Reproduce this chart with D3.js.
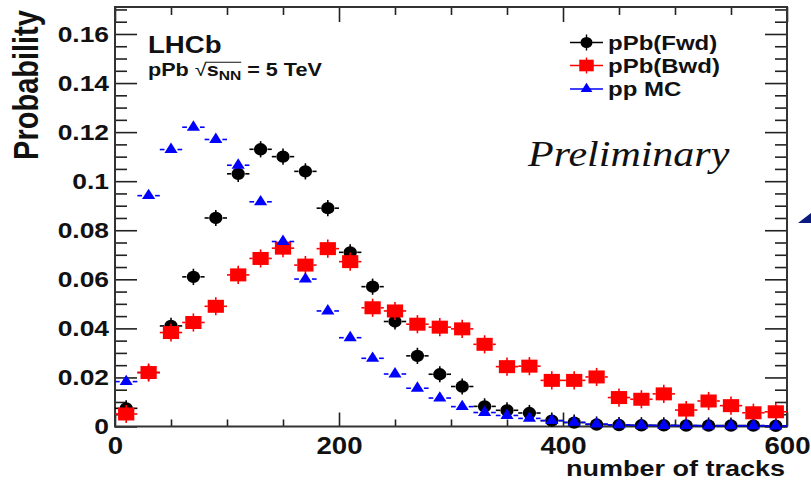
<!DOCTYPE html>
<html>
<head>
<meta charset="utf-8">
<script src="https://cdn.jsdelivr.net/npm/d3@7/dist/d3.min.js"></script>
<style>
  body { margin: 0; background: #fff; }
  text { font-family: "Liberation Sans", Arial, sans-serif; }
</style>
</head>
<body>
<div id="chart"></div>
<script>
// track multiplicity, bin centres (20 tracks wide)
var binCenters = [10, 30, 50, 70, 90, 110, 130, 150, 170, 190,
                  210, 230, 250, 270, 290, 310, 330, 350, 370, 390,
                  410, 430, 450, 470, 490, 510, 530, 550, 570, 590];

var fwdValues = [0.0074, 0.0220, 0.0410, 0.0610, 0.0850, 0.1030, 0.1130, 0.1100, 0.1040, 0.0890,
                 0.0710, 0.0570, 0.0428, 0.0288, 0.0213, 0.0163, 0.0082, 0.0066, 0.0055, 0.0024,
                 0.0016, 0.0008, 0.0006, 0.0005, 0.0005, 0.0004, 0.0004, 0.0004, 0.0004, 0.0003];

var bwdValues = [0.0051, 0.0220, 0.0383, 0.0424, 0.0490, 0.0618, 0.0685, 0.0727, 0.0658, 0.0725,
                 0.0672, 0.0484, 0.0471, 0.0417, 0.0405, 0.0398, 0.0335, 0.0244, 0.0246, 0.0188,
                 0.0188, 0.0202, 0.0118, 0.0111, 0.0133, 0.0067, 0.0104, 0.0085, 0.0056, 0.0060];

var mcValues = [0.0183, 0.0941, 0.1129, 0.1220, 0.1170, 0.1065, 0.0916, 0.0754, 0.0601, 0.0471,
                0.0362, 0.0278, 0.0214, 0.0156, 0.0116, 0.0081, 0.0057, 0.0045, 0.0033, 0.0024,
                0.0017, 0.0010, 0.0007, 0.0005, 0.0004, 0.0004, 0.0003, 0.0003, 0.0003, 0.0002];

var xTicks = [0, 200, 400, 600];
var xMinorTicks = [50, 100, 150, 250, 300, 350, 450, 500, 550];
var yTicks = [0, 0.02, 0.04, 0.06, 0.08, 0.1, 0.12, 0.14, 0.16];
var yMinorTicks = [0.005, 0.01, 0.015, 0.025, 0.03, 0.035, 0.045, 0.05, 0.055, 0.065, 0.07, 0.075,
                   0.085, 0.09, 0.095, 0.105, 0.11, 0.115, 0.125, 0.13, 0.135, 0.145, 0.15, 0.155,
                   0.165, 0.17];
var legendLabels = ["pPb(Fwd)", "pPb(Bwd)", "pp MC"];

var w = 811, h = 482,
    frame = { left: 115, right: 787, top: 7, bottom: 426.5 },
    sx = 1.2; // the fonts are drawn a bit wide

var x = d3.scaleLinear().domain([0, 600]).range([frame.left, frame.right]);
var y = d3.scaleLinear().domain([0, 0.171]).range([frame.bottom, frame.top]);

var svg = d3.select("#chart").append("svg")
    .attr("width", w)
    .attr("height", h);

svg.append("rect").attr("width", w).attr("height", h).attr("fill", "#fff");

// axes, ROOT style: ticks point into the frame on all four sides
function fmtY(d) { return d === 0 ? "0" : String(+d.toFixed(2)); }

function addAxis(axis, tx, ty, size, labels) {
    var g = svg.append("g").attr("transform", "translate(" + tx + "," + ty + ")")
        .call(axis.tickSizeInner(-size).tickSizeOuter(0));
    g.select(".domain").remove();
    g.selectAll(".tick line").attr("stroke", "#222").attr("stroke-width", 1.6);
    if (!labels) g.selectAll(".tick text").remove();
    return g;
}

var yAxis = addAxis(d3.axisLeft(y).tickValues(yTicks).tickFormat(fmtY).tickPadding(5), frame.left, 0, 22, true);
yAxis.selectAll(".tick text")
    .attr("fill", "#111")
    .style("font-size", "22px").style("font-weight", "bold")
    .attr("transform", "scale(" + sx + ",1)");
addAxis(d3.axisLeft(y).tickValues(yMinorTicks).tickFormat(""), frame.left, 0, 12, false);
addAxis(d3.axisRight(y).tickValues(yTicks), frame.right, 0, 22, false);
addAxis(d3.axisRight(y).tickValues(yMinorTicks), frame.right, 0, 12, false);

var xAxis = addAxis(d3.axisBottom(x).tickValues(xTicks).tickFormat(d3.format("d")).tickPadding(11), 0, frame.bottom, 14, true);
xAxis.selectAll(".tick text")
    .attr("fill", "#111")
    .style("font-size", "23px").style("font-weight", "bold")
    .attr("transform", "scale(" + sx + ",1)");
addAxis(d3.axisBottom(x).tickValues(xMinorTicks).tickFormat(""), 0, frame.bottom, 7, false);
addAxis(d3.axisTop(x).tickValues(xTicks), 0, frame.top, 15, false);
addAxis(d3.axisTop(x).tickValues(xMinorTicks), 0, frame.top, 8, false);

// frame
svg.append("rect")
    .attr("x", frame.left).attr("y", frame.top)
    .attr("width", frame.right - frame.left).attr("height", frame.bottom - frame.top)
    .attr("fill", "none").attr("stroke", "#333").attr("stroke-width", 2);

// axis titles
svg.append("text")
    .attr("transform", "translate(38,85) scale(" + sx + ",1) rotate(-90)")
    .attr("text-anchor", "middle")
    .style("font-size", "29px").style("font-weight", "bold")
    .attr("fill", "#111")
    .text("Probability");

svg.append("text")
    .attr("transform", "translate(785,476) scale(" + sx + ",1)")
    .attr("text-anchor", "end")
    .style("font-size", "22.5px").style("font-weight", "bold")
    .attr("fill", "#111")
    .text("number of tracks");

// data series, drawn in this order so red sits on black and blue on top
var series = [
    { values: fwdValues, color: "#000", symbol: d3.symbolCircle,   size: 120, stretch: 1.08, gap: 7,   err: 0.0033 },
    { values: bwdValues, color: "#f00", symbol: d3.symbolSquare,   size: 169, stretch: 1.25, gap: 8,   err: 0.0037 },
    { values: mcValues,  color: "#00f", symbol: d3.symbolTriangle, size: 62,  stretch: 1.1,  gap: 6.5, err: 0 }
];

var halfBin = 10;

series.forEach(function(s) {
    var g = svg.append("g");
    var pts = g.selectAll(".pt")
        .data(binCenters.map(function(c, i) { return { c: c, v: s.values[i] }; }))
        .enter().append("g").attr("class", "pt");

    // horizontal bars (bin width), broken around the marker
    pts.append("line")
        .attr("x1", function(d) { return x(d.c - halfBin); })
        .attr("x2", function(d) { return x(d.c) - s.gap; })
        .attr("y1", function(d) { return y(d.v); })
        .attr("y2", function(d) { return y(d.v); })
        .attr("stroke", s.color).attr("stroke-width", 1.6);
    pts.append("line")
        .attr("x1", function(d) { return x(d.c) + s.gap; })
        .attr("x2", function(d) { return x(d.c + halfBin); })
        .attr("y1", function(d) { return y(d.v); })
        .attr("y2", function(d) { return y(d.v); })
        .attr("stroke", s.color).attr("stroke-width", 1.6);

    if (s.err > 0) {
        pts.append("line")
            .attr("x1", function(d) { return x(d.c); })
            .attr("x2", function(d) { return x(d.c); })
            .attr("y1", function(d) { return y(Math.max(0, d.v - s.err)); })
            .attr("y2", function(d) { return y(d.v + s.err); })
            .attr("stroke", s.color).attr("stroke-width", 1.6);
    }

    pts.append("path")
        .attr("d", d3.symbol().type(s.symbol).size(s.size))
        .attr("transform", function(d) {
            return "translate(" + x(d.c) + "," + y(d.v) + ") scale(" + s.stretch + ",1)";
        })
        .attr("fill", s.color);
});

// legend
var legend = svg.append("g").attr("transform", "translate(570,0)");
var legendRows = [42.5, 65.5, 89];
series.forEach(function(s, i) {
    var row = legend.append("g").attr("transform", "translate(0," + legendRows[i] + ")");
    row.append("line").attr("x1", 0).attr("x2", 33).attr("y1", 0).attr("y2", 0)
        .attr("stroke", s.color).attr("stroke-width", 1.4);
    if (s.err > 0) {
        row.append("line").attr("x1", 16.5).attr("x2", 16.5).attr("y1", -8).attr("y2", 8)
            .attr("stroke", s.color).attr("stroke-width", 1.4);
    }
    row.append("path")
        .attr("d", d3.symbol().type(s.symbol).size(s.size * 0.8))
        .attr("transform", "translate(16.5,0) scale(" + s.stretch + ",1)")
        .attr("fill", s.color);
    row.append("text")
        .attr("transform", "translate(38,0) scale(" + sx + ",1)")
        .attr("dy", "0.36em")
        .style("font-size", "20px").style("font-weight", "bold")
        .attr("fill", "#111")
        .text(legendLabels[i]);
});

// experiment label
svg.append("text")
    .attr("transform", "translate(148,53) scale(" + sx + ",1)")
    .style("font-size", "23px").style("font-weight", "bold")
    .attr("fill", "#111")
    .text("LHCb");

var energyG = svg.append("g").attr("transform", "translate(148,76) scale(" + sx + ",1)");
var energy = energyG.append("text")
    .style("font-size", "18px").style("font-weight", "bold")
    .attr("fill", "#111");
energy.append("tspan").text("pPb ");
var rootSign = energy.append("tspan").style("font-weight", "normal").text("\u221A");
energy.append("tspan").text("s");
var nn = energy.append("tspan").attr("dy", 4).style("font-size", "13px").text("NN");
energy.append("tspan").attr("dy", -4).text(" = 5 TeV");

// overline of the square root, from the sign to the end of the subscript
var rb = rootSign.node().getBBox(), nb = nn.node().getBBox();
energyG.append("line")
    .attr("x1", rb.x + rb.width - 0.5).attr("x2", nb.x + nb.width)
    .attr("y1", rb.y + 2.5).attr("y2", rb.y + 2.5)
    .attr("stroke", "#111").attr("stroke-width", 1.1);

svg.append("text")
    .attr("transform", "translate(528,166) scale(" + sx + ",1)")
    .style("font-family", "'Liberation Serif', 'Times New Roman', serif")
    .style("font-style", "italic")
    .style("font-size", "35px")
    .attr("fill", "#111")
    .text("Preliminary");

// edge of a neighbouring arrow
svg.append("polygon")
    .attr("points", "798,223 811,213 811,223")
    .attr("fill", "#0b1a7e");
</script>
</body>
</html>
